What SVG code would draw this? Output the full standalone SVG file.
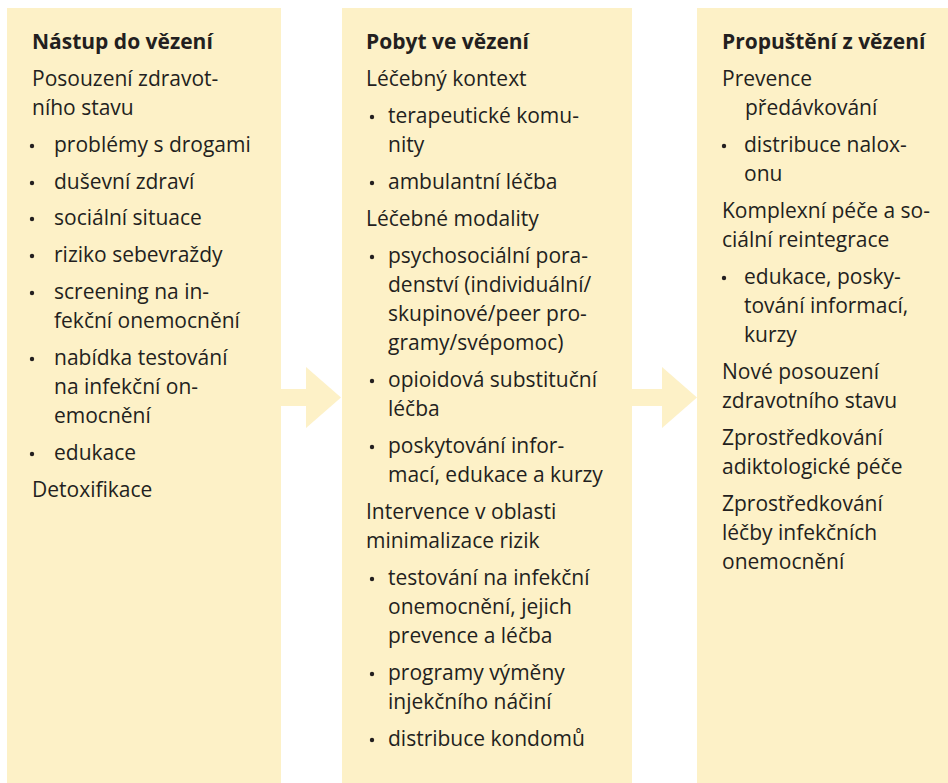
<svg xmlns="http://www.w3.org/2000/svg" width="948" height="783" viewBox="0 0 948 783">
<style>
.box{fill:#fdf1c7}
.arr{fill:#fdf1c7}
text{font-family:"Open Sans","Noto Sans",sans-serif;font-size:21px;fill:#231f20}
.h{font-weight:bold}
.b{fill:#231f20}
</style>
<rect width="948" height="783" fill="#ffffff"/>
<g id="connectors">
<polygon class="arr" points="281,389 306,389 306,367 341,397.5 306,428 306,406 281,406"/>
<polygon class="arr" points="632,389 662,389 662,367 697,397.5 662,428 662,406 632,406"/>
</g>
<g id="node-nastup">
<rect class="box" x="7" y="8" width="274" height="775"/>
<text class="h" x="32" y="49">Nástup do vězení</text>
<text x="32" y="86">Posouzení zdravot-</text>
<text x="32" y="115">ního stavu</text>
<circle class="b" cx="32" cy="146" r="2.2"/><text x="54" y="152">problémy s drogami</text>
<circle class="b" cx="32" cy="183" r="2.2"/><text x="54" y="189">duševní zdraví</text>
<circle class="b" cx="32" cy="219" r="2.2"/><text x="54" y="225">sociální situace</text>
<circle class="b" cx="32" cy="256" r="2.2"/><text x="54" y="262">riziko sebevraždy</text>
<circle class="b" cx="32" cy="293" r="2.2"/><text x="54" y="299">screening na in-</text>
<text x="54" y="328">fekční onemocnění</text>
<circle class="b" cx="32" cy="359" r="2.2"/><text x="54" y="365">nabídka testování</text>
<text x="54" y="394">na infekční on-</text>
<text x="54" y="423">emocnění</text>
<circle class="b" cx="32" cy="454" r="2.2"/><text x="54" y="460">edukace</text>
<text x="32" y="497">Detoxifikace</text>
</g>
<g id="node-pobyt">
<rect class="box" x="342" y="8" width="290" height="775"/>
<text class="h" x="366" y="49">Pobyt ve vězení</text>
<text x="366" y="86">Léčebný kontext</text>
<circle class="b" cx="372" cy="117" r="2.2"/><text x="388" y="123">terapeutické komu-</text>
<text x="388" y="152">nity</text>
<circle class="b" cx="372" cy="183" r="2.2"/><text x="388" y="189">ambulantní léčba</text>
<text x="366" y="226">Léčebné modality</text>
<circle class="b" cx="372" cy="257" r="2.2"/><text x="388" y="263">psychosociální pora-</text>
<text x="388" y="292">denství (individuální/</text>
<text x="388" y="321">skupinové/peer pro-</text>
<text x="388" y="350">gramy/svépomoc)</text>
<circle class="b" cx="372" cy="381" r="2.2"/><text x="388" y="387">opioidová substituční</text>
<text x="388" y="416">léčba</text>
<circle class="b" cx="372" cy="447" r="2.2"/><text x="388" y="453">poskytování infor-</text>
<text x="388" y="482">mací, edukace a kurzy</text>
<text x="366" y="519">Intervence v oblasti</text>
<text x="366" y="548">minimalizace rizik</text>
<circle class="b" cx="372" cy="579" r="2.2"/><text x="388" y="585">testování na infekční</text>
<text x="388" y="614">onemocnění, jejich</text>
<text x="388" y="643">prevence a léčba</text>
<circle class="b" cx="372" cy="674" r="2.2"/><text x="388" y="680">programy výměny</text>
<text x="388" y="709">injekčního náčiní</text>
<circle class="b" cx="372" cy="740" r="2.2"/><text x="388" y="746">distribuce kondomů</text>
</g>
<g id="node-propusteni">
<rect class="box" x="697" y="8" width="251" height="775"/>
<text class="h" x="722" y="49">Propuštění z vězení</text>
<text x="722" y="86">Prevence</text>
<text x="745" y="115">předávkování</text>
<circle class="b" cx="724" cy="146" r="2.2"/><text x="744" y="152">distribuce nalox-</text>
<text x="744" y="181">onu</text>
<text x="722" y="218">Komplexní péče a so-</text>
<text x="722" y="247">ciální reintegrace</text>
<circle class="b" cx="724" cy="278" r="2.2"/><text x="744" y="284">edukace, posky-</text>
<text x="744" y="313">tování informací,</text>
<text x="744" y="342">kurzy</text>
<text x="722" y="379">Nové posouzení</text>
<text x="722" y="408">zdravotního stavu</text>
<text x="722" y="445">Zprostředkování</text>
<text x="722" y="474">adiktologické péče</text>
<text x="722" y="511">Zprostředkování</text>
<text x="722" y="540">léčby infekčních</text>
<text x="722" y="569">onemocnění</text>
</g>
</svg>
